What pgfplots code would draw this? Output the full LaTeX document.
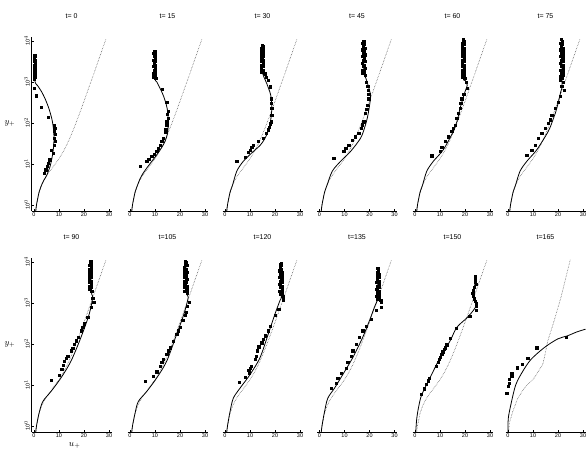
\documentclass[border=0pt]{standalone}
\usepackage{fontspec}
\setmainfont{Liberation Sans}
\usepackage{pgfplots}
\pgfplotsset{compat=1.18}
\usepackage{pgfplotstable}

\pgfplotstableread{
u y
0.71 0.71
1 1
2 2.00
3 3.01
4 4.04
5 5.12
6 6.27
7 7.56
8 9.08
9 10.97
10 13.43
11 16.78
12 21.5
13 28.3
14 38.25
15 52.9
16 74.8
17 107.3
18 155.7
19 228
20 336
22 739
24 1637
26 3639
28 8097
28.8 11100
}\spalding

\pgfplotsset{
  rpanel/.style={
    scale only axis, width=80pt, height=174.25pt,
    xmin=-1, xmax=31, ymin=0.708, ymax=12589,
    axis x line*=bottom,
    axis line style={-, line width=0.7pt},
    xtick={0,10,20,30},
    xticklabel style={font=\fontsize{5.5}{5.5}\selectfont, /pgf/number format/assume math mode=true, inner sep=1.5pt},
    tick align=inside, major tick length=2pt, tick style={line width=0.5pt, black},
    clip=false,
  },
  rfirst/.style={
    axis y line*=left, ytick={1,10,100,1000,10000},
    yticklabels={10$^0$,10$^1$,10$^2$,10$^3$,10$^4$},
    yticklabel style={rotate=90, anchor=south, font=\fontsize{5.5}{5.5}\selectfont, inner sep=1.5pt},
    yminorticks=false,
  },
  rother/.style={hide y axis},
  rsol/.style={black, line width=0.8pt, no marks, smooth},
  rdot/.style={black!70, line width=0.55pt, densely dotted, no marks},
  rmk/.style={only marks, mark=square*, mark size=1.1pt, black},
}
\tikzset{rttl/.style={font=\fontsize{7}{7}\selectfont}, rlab/.style={font=\fontsize{9}{9}\selectfont}}

\begin{document}
\begin{tikzpicture}
\useasboundingbox (0pt,0pt) rectangle (587pt,451pt);

% ---------------- row 1 ----------------
\begin{axis}[ymode=log, rpanel, rfirst, at={(31.5pt,240pt)}, anchor=south west]
\addplot[rdot] table {\spalding};
\addplot[rsol] coordinates {(0.71,0.71)(1,1)(2,2)(3,3.01)(4,4.04)(5,5.1)(5.8,6.8)(6.5,9)(7.2,14)(7.7,22)(8,40)(7.8,70)(7.2,120)(6,220)(4.5,380)(3,580)(1.5,800)(0.3,1100)(0.3,4370)};
\addplot[rmk] coordinates {(0.1,1200)(0.5,1330)(0.2,1460)(0.6,1610)(0.0,1770)(0.4,1950)(0.3,2140)(0.6,2360)(0.1,2590)(0.5,2850)(0.2,3140)(0.6,3450)(0.1,3800)(0.4,4180)(0.3,4370)
(0,700)(0.8,460)(2.8,240)(5.7,135)(8,89)(8.3,74)(8,62)(8.4,52)(8,42)(8.4,35)(8.2,29)(7,22)(7.7,18)(6.3,12.6)(5.7,10.5)(5.2,8.7)(4.7,7.2)(4,6)};
\node[rttl] at (axis description cs:0.5,1.12) {t= 0};
\node[rlab] at (axis description cs:-0.27,0.5) {$y_+$};
\end{axis}

\begin{axis}[ymode=log, rpanel, rother, at={(127.5pt,240pt)}, anchor=south west]
\addplot[rdot] table {\spalding};
\addplot[rsol] coordinates {(0.71,0.71)(1,1)(2,2)(3,3.01)(4,4.3)(5,5.6)(6.7,7.9)(8.7,11.5)(10.7,16.6)(12.5,24)(14,35)(15,55)(15.3,89)(15.2,140)(15.1,186)(14.5,280)(13.3,470)(12,700)(10.7,1000)(10,1250)(9.8,5600)};
\addplot[rmk] coordinates {(10.3,1210)(9.5,1330)(10.1,1460)(9.4,1610)(10.2,1770)(9.6,1950)(10.0,2140)(9.4,2360)(10.2,2590)(9.6,2850)(10.0,3140)(9.5,3450)(10.1,3800)(9.6,4180)(10.0,4590)(9.5,5050)(9.9,5600)
(12.9,660)(14.7,324)(15.3,195)(15,160)(15.3,130)(14.7,107)(14.7,90)(14.3,68)(14,58)(13.3,42)(12.7,35)(12,29)(11.3,24)(10.7,20)(9.8,17)(8.7,15.1)(7.5,13)(6.7,11.5)(4,8.7)};
\node[rttl] at (axis description cs:0.5,1.12) {t= 15};
\end{axis}

\begin{axis}[ymode=log, rpanel, rother, at={(222.5pt,240pt)}, anchor=south west]
\addplot[rdot] table {\spalding};
\addplot[rsol] coordinates {(0.71,0.71)(1,1)(2,2)(3,3.01)(4.7,6.6)(7.3,11.5)(11.3,20)(14,28)(16,42)(17.5,70)(18.3,120)(18.7,224)(18.3,470)(16.7,910)(15.3,1450)(15,2000)(15,7760)};
\addplot[rmk] coordinates {(15.6,1610)(14.6,1770)(15.3,1950)(14.5,2140)(15.4,2360)(14.7,2590)(15.2,2850)(14.6,3140)(15.4,3450)(14.7,3800)(15.2,4180)(14.6,4590)(15.3,5050)(14.7,5560)(15.2,6120)(14.6,6730)(15.1,7400)(14.8,7760)
(16,1585)(16.5,1300)(17.3,1100)(18,760)(18.4,390)(18.6,300)(18.7,224)(18.7,155)(18.4,107)(18.2,95)(17.8,80)(17.3,68)(16.5,55)(15.3,42)(13.3,35)(11.3,29)(10.7,25)(10,22)(9.3,19)(8,14.5)(4.7,11.5)};
\node[rttl] at (axis description cs:0.5,1.12) {t= 30};
\end{axis}

\begin{axis}[ymode=log, rpanel, rother, at={(317pt,240pt)}, anchor=south west]
\addplot[rdot] table {\spalding};
\addplot[rsol] coordinates {(0.71,0.71)(1,1)(2,2)(3,3.01)(5.1,6.6)(8.4,11.5)(12.4,20)(16.4,42)(18,75)(19.1,129)(20,260)(20.4,468)(19.5,800)(18.5,1250)(17.8,1700)(17.7,10000)};
\addplot[rmk] coordinates {(18.3,1460)(17.2,1610)(18.0,1770)(17.3,1950)(18.2,2140)(17.4,2360)(18.0,2590)(17.2,2850)(18.1,3140)(17.4,3450)(18.0,3800)(17.3,4180)(18.1,4590)(17.4,5050)(18.0,5560)(17.3,6120)(18.1,6730)(17.4,7400)(18.0,8140)(17.3,8950)(17.9,9850)(17.6,10000)
(18.7,1000)(19.3,800)(19.5,630)(19.7,500)(19.7,390)(19.1,270)(18.9,220)(18.4,170)(17.7,107)(17,90)(16.7,74)(15.7,56)(14.4,46)(13.1,38)(11.7,29)(10.5,24)(9.7,20)(5.7,13.8)};
\node[rttl] at (axis description cs:0.5,1.12) {t= 45};
\end{axis}

\begin{axis}[ymode=log, rpanel, rother, at={(412.5pt,240pt)}, anchor=south west]
\addplot[rdot] table {\spalding};
\addplot[rsol] coordinates {(0.71,0.71)(1,1)(2,2)(3,3.01)(4.7,6.6)(7.3,11.5)(11.3,22)(15.3,62)(17,120)(18,224)(20,575)(20.9,830)(20,1100)(19.4,1300)(19.3,10830)};
\addplot[rmk] coordinates {(19.9,1210)(18.8,1330)(19.6,1460)(18.9,1610)(19.8,1770)(19.0,1950)(19.6,2140)(18.9,2360)(19.7,2590)(19.0,2850)(19.6,3140)(18.9,3450)(19.7,3800)(19.0,4180)(19.6,4590)(18.9,5050)(19.7,5560)(19.0,6120)(19.6,6730)(18.9,7400)(19.7,8140)(19.0,8950)(19.5,9850)(19.2,10830)
(20.4,1000)(20.9,690)(19.5,500)(18.7,390)(18.3,300)(18,224)(17.3,170)(16.7,129)(16,89)(15.3,75)(14.7,62)(13.3,46)(12,35)(10.7,26)(10,20)(6.7,15.8)};
\node[rttl] at (axis description cs:0.5,1.12) {t= 60};
\end{axis}

\begin{axis}[ymode=log, rpanel, rother, at={(505.5pt,240pt)}, anchor=south west]
\addplot[rdot] table {\spalding};
\addplot[rsol] coordinates {(0.71,0.71)(1,1)(2,2)(3,3.01)(4.8,6.6)(7.5,11.5)(11.5,22)(16.1,62)(18,120)(19.5,224)(21.1,575)(21.6,900)(21.5,10830)};
\addplot[rmk] coordinates {(22.0,1000)(21.0,1100)(21.8,1210)(21.0,1330)(22.1,1460)(21.2,1610)(21.9,1770)(21.0,1950)(22.0,2140)(21.2,2360)(21.9,2590)(21.0,2850)(22.0,3140)(21.2,3450)(21.9,3800)(21.0,4180)(22.0,4590)(21.2,5050)(21.9,5560)(21.0,6120)(22.0,6730)(21.2,7400)(21.8,8140)(21.1,8950)(21.7,9850)(21.4,10830)
(21.5,800)(22.4,630)(21,450)(20.1,324)(18.8,224)(17.5,155)(16.8,120)(16.1,98)(14.8,74)(13.5,56)(12.1,42)(10.8,29)(9.5,22)(7.5,16.6)};
\node[rttl] at (axis description cs:0.5,1.12) {t= 75};
\end{axis}

% ---------------- row 2 ----------------
\begin{axis}[ymode=log, rpanel, rfirst, at={(31.5pt,19pt)}, anchor=south west]
\addplot[rdot] table {\spalding};
\addplot[rsol] coordinates {(0.71,0.71)(1,1)(2,2)(3.5,3.9)(6.8,6.9)(10.8,14.8)(14.8,38)(18.8,145)(22.1,537)(23.5,1380)(23,1800)(22.6,10230)};
\addplot[rmk] coordinates {(23.1,1950)(22.2,2140)(23.0,2360)(22.2,2590)(22.9,2850)(22.3,3140)(23.0,3450)(22.2,3800)(22.9,4180)(22.3,4590)(23.0,5050)(22.2,5560)(22.9,6120)(22.3,6730)(23.0,7400)(22.2,8140)(22.9,8950)(22.4,9850)(22.7,10230)
(23.9,1047)(23.5,1300)(22.8,794)(21.5,447)(20.1,309)(19.5,250)(18.8,209)(17.7,145)(17,120)(16.1,98)(15.5,80)(14.8,68)(13.5,50)(12.8,44)(12.1,38)(11.6,30)(11.1,24)(10.1,17)(6.8,12.9)};
\node[rttl] at (axis description cs:0.5,1.12) {t= 90};
\node[rlab] at (axis description cs:-0.27,0.5) {$y_+$};
\node[rlab] at (axis description cs:0.54,-0.08) {$u_+$};
\end{axis}

\begin{axis}[ymode=log, rpanel, rother, at={(127.5pt,19pt)}, anchor=south west]
\addplot[rdot] table {\spalding};
\addplot[rsol] coordinates {(0.71,0.71)(1,1)(2,2)(3.3,3.9)(6.7,6.9)(10.7,14.8)(14.7,38)(18.7,174)(21.6,537)(23.3,1380)(22.6,1800)(22.3,10230)};
\addplot[rmk] coordinates {(22.9,1770)(21.9,1950)(22.7,2140)(21.8,2360)(22.8,2590)(21.9,2850)(22.6,3140)(21.8,3450)(22.7,3800)(21.9,4180)(22.6,4590)(21.8,5050)(22.7,5560)(21.9,6120)(22.6,6730)(21.8,7400)(22.7,8140)(22.0,8950)(22.5,9850)(22.2,10230)
(23.7,1047)(23,830)(22.5,600)(22,490)(21.1,372)(20,251)(19.3,210)(18.7,174)(17.3,117)(16,81)(15.3,68)(14.7,56)(13.3,42)(12.7,35)(12,29)(10.7,21)(9.3,16.2)(6,12.3)};
\node[rttl] at (axis description cs:0.5,1.12) {t=105};
\end{axis}

\begin{axis}[ymode=log, rpanel, rother, at={(222.5pt,19pt)}, anchor=south west]
\addplot[rdot] table {\spalding};
\addplot[rsol] coordinates {(0.71,0.71)(1,1)(2,2.2)(3.3,4.7)(6,8.3)(10,17.8)(14,46)(17.3,174)(20,537)(22,1150)(22.5,1500)(22.4,9330)};
\addplot[rmk] coordinates {(23.1,1460)(22.0,1610)(22.9,1770)(21.9,1950)(22.8,2140)(22.0,2360)(22.7,2590)(21.9,2850)(22.8,3140)(22.0,3450)(22.7,3800)(21.9,4180)(22.8,4590)(22.0,5050)(22.7,5560)(21.9,6120)(22.6,6730)(22.0,7400)(22.6,8140)(22.2,8950)(22.4,9330)
(23.3,1200)(21.5,700)(20,490)(18,275)(17.3,209)(16,158)(15.3,130)(14.7,107)(13.5,85)(12.9,68)(12.4,50)(12,42)(10.5,28)(10,26)(9.2,23)(9.7,21)(9.8,19.5)(8,15.5)(5.7,11.7)};
\node[rttl] at (axis description cs:0.5,1.12) {t=120};
\end{axis}

\begin{axis}[ymode=log, rpanel, rother, at={(317pt,19pt)}, anchor=south west]
\addplot[rdot] table {\spalding};
\addplot[rsol] coordinates {(0.71,0.71)(1,1)(2,2.2)(3.3,4.7)(6,8.3)(9.3,17.8)(13.3,46)(17.3,145)(20,372)(22,794)(23,1100)(23.3,1400)(23.3,6900)};
\addplot[rmk] coordinates {(24.7,1050)(24.5,1150)(23.0,1210)(24.0,1330)(22.8,1460)(23.9,1610)(23.0,1770)(23.8,1950)(22.9,2140)(23.7,2360)(23.0,2590)(23.8,2850)(22.9,3140)(23.7,3450)(23.0,3800)(23.8,4180)(23.0,4590)(23.7,5050)(23.1,5560)(23.6,6120)(23.3,6900)
(24.7,794)(22.7,676)(20.7,407)(18.7,275)(17.3,209)(16,145)(14.7,98)(13.3,68)(12.7,50)(11.3,35)(10.7,26)(8.7,19.5)(7.3,14.8)(6.7,11)(4.7,8.3)};
\node[rttl] at (axis description cs:0.5,1.12) {t=135};
\end{axis}

\begin{axis}[ymode=log, rpanel, rother, at={(412.5pt,19pt)}, anchor=south west]
\addplot[rdot] table {\spalding};
\addplot[rsol] coordinates {(0.3,0.71)(0.7,1.5)(1.5,3)(2.7,5.75)(6,14.8)(10,46)(14,117)(16.7,251)(20.7,427)(23.3,650)(24.4,850)(24.2,1100)(23.3,1500)(23.2,1900)(24,2900)(24,4370)};
\addplot[rmk] coordinates {(24,4370)(24.2,3720)(24,3240)(24.4,2880)(23.6,2450)(23.3,2040)(23.1,1700)(23.3,1445)(23.7,1260)(24,1096)(24.4,955)(24.4,813)(24.4,676)
(21.9,468)(16.4,240)(14,138)(12.7,95)(12,81)(11.6,73)(11.1,64.6)(10.7,55)(10,48)(9.7,42)(9.3,36.5)(8.4,29)(5.7,14.8)(5.3,12.6)(4.4,10.5)(3.7,8.1)(2.4,5.9)};
\node[rttl] at (axis description cs:0.5,1.12) {t=150};
\end{axis}

\begin{axis}[ymode=log, rpanel, rother, at={(505.5pt,19pt)}, anchor=south west]
\addplot[rdot] coordinates {(0.3,0.8)(0.5,1.15)(1.9,2.24)(3.9,4.7)(6.5,8.3)(10.5,14.8)(13.9,31.6)(14.8,55)(15.9,117)(18.5,372)(21.2,1380)(24.9,11200)};
\addplot[rsol] coordinates {(0,0.71)(0.1,1.5)(1.1,3.2)(3.1,10)(5.9,21.4)(9.2,41.7)(14.5,81)(19.9,132)(23.9,158)(27.5,195)(31,228)};
\addplot[rmk] coordinates {(23.4,148)(11.5,81)(7.9,44.7)(5.6,31.6)(3.6,26.3)(1.5,19.5)(1.5,16.2)(0.4,13.5)(0.5,11)(0.2,9.2)(-0.5,6.3)};
\node[rttl] at (axis description cs:0.5,1.12) {t=165};
\end{axis}

\end{tikzpicture}
\end{document}
